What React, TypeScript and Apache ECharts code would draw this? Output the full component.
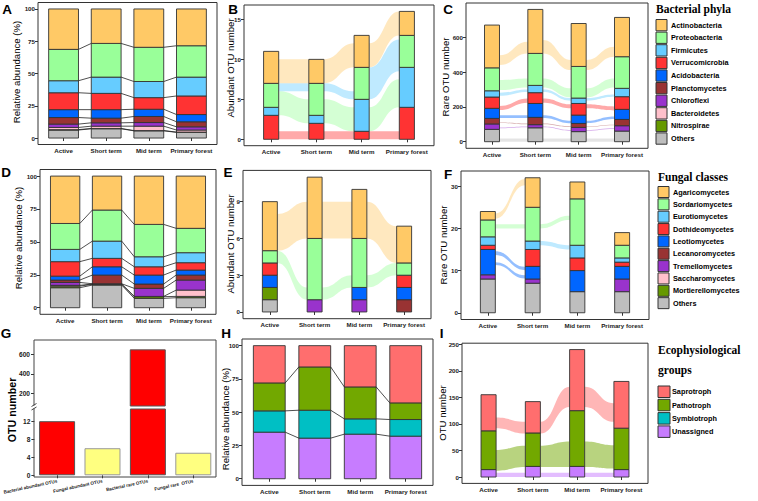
import React, { useEffect, useRef } from "react";
import * as echarts from "echarts";

const FONT = '"Liberation Sans", Arial, Helvetica, sans-serif';
const SERIF = '"Liberation Serif", "Times New Roman", serif';

const SITES = ["Active", "Short term", "Mid term", "Primary forest"];

// stacking order bottom -> top (legends list them top -> bottom)
const BACTERIAL_PHYLA = ["Others", "Nitrospirae", "Bacteroidetes", "Chloroflexi", "Planctomycetes", "Acidobacteria", "Verrucomicrobia", "Firmicutes", "Proteobacteria", "Actinobacteria"];
const FUNGAL_CLASSES = ["Others", "Mortierellomycetes", "Saccharomycetes", "Tremellomycetes", "Lecanoromycetes", "Leotiomycetes", "Dothideomycetes", "Eurotiomycetes", "Sordariomycetes", "Agaricomycetes"];
const TAXON_COLORS = ["#BEBEBE", "#669900", "#FFC0CB", "#9933CC", "#993333", "#0066FF", "#FF3333", "#66CCFF", "#99FF99", "#FFC966"];
const GROUPS = ["Unassigned", "Symbiotroph", "Pathotroph", "Saprotroph"];
const GROUP_COLORS = ["#C77CFF", "#00BFC4", "#72A800", "#FF6E6E"];

// rows follow the stacking order, columns follow SITES
const A_BACT_REL = [
  [6.2, 7.2, 5.6, 4.4],
  [0.3, 0.2, 0.2, 0.2],
  [1.7, 1.8, 3.4, 1.6],
  [2.6, 2.6, 2.8, 2.5],
  [5.1, 3.6, 4.7, 3.9],
  [6.1, 6.6, 5.6, 5.6],
  [13.1, 12.6, 9.0, 14.4],
  [9.3, 12.6, 12.5, 14.6],
  [24.3, 26.1, 26.5, 24.3],
  [31.3, 26.7, 29.7, 28.5],
];
const B_BACT_ABUNDANT = [
  [0, 0, 0, 0], [0, 0, 0, 0], [0, 0, 0, 0], [0, 0, 0, 0], [0, 0, 0, 0], [0, 0, 0, 0],
  [3, 2, 1, 4],
  [1, 1, 4, 5],
  [3, 4, 4, 4],
  [4, 3, 4, 3],
];
const C_BACT_RARE = [
  [71, 80, 58, 61],
  [0, 0, 0, 0],
  [0, 0, 0, 0],
  [31, 18, 24, 31],
  [32, 42, 23, 36],
  [58, 80, 48, 58],
  [65, 62, 67, 73],
  [36, 42, 31, 48],
  [132, 184, 182, 182],
  [246, 253, 247, 226],
];
const D_FUNG_REL = [
  [15.2, 17.2, 7.1, 7.6],
  [1.2, 0.6, 1.3, 1.0],
  [0.6, 0.2, 0.2, 4.8],
  [2.2, 0.2, 6.1, 7.6],
  [1.8, 6.6, 3.3, 3.8],
  [3.0, 6.3, 6.8, 3.8],
  [11.0, 6.4, 6.3, 5.6],
  [9.3, 13.1, 7.6, 7.6],
  [19.7, 23.6, 24.6, 18.5],
  [36.0, 25.8, 36.7, 39.7],
];
const E_FUNG_ABUNDANT = [
  [1, 0, 0, 0],
  [1, 0, 0, 0],
  [0, 0, 0, 0],
  [0, 1, 1, 0],
  [0, 0, 0, 1],
  [1, 0, 1, 1],
  [1, 0, 0, 1],
  [0, 0, 0, 0],
  [1, 5, 4, 1],
  [4, 5, 4, 3],
];
const F_FUNG_RARE = [
  [8, 7, 5, 5],
  [0, 0, 0, 0],
  [0, 0, 0, 0],
  [1, 1, 0, 3],
  [0, 0, 0, 0],
  [6, 3, 5, 3],
  [1, 4, 3, 1],
  [2, 2, 3, 1],
  [4, 8, 11, 3],
  [2, 7, 4, 3],
];
const G_CATEGORIES = ["Bacterial abundant OTUs", "Fungal abundant OTUs", "Bacterial rare OTUs", "Fungal rare  OTUs"];
const G_VALUES = [12, 6, 651, 5];
const H_GROUP_REL = [
  [35, 30.5, 33.5, 32],
  [16, 21, 11.5, 12.5],
  [21, 32.5, 24, 12.5],
  [28, 16, 31, 43],
];
const I_GROUP_OTU = [
  [14, 20, 20, 14],
  [0, 0, 0, 0],
  [73, 63, 105, 78],
  [68, 59, 115, 88],
];

// flows: [taxon, site pair (0 = Active->Short), from low, from high, to low, to high]
const B_FLOWS = [
  [6, 0, 0, 1, 0, 1], [6, 1, 0, 1, 0, 1], [6, 2, 0, 1, 0, 1],
  [8, 0, 3, 6, 2, 5], [8, 1, 2, 5, 1, 4], [8, 2, 1, 4, 4, 7.5],
  [7, 0, 6, 7, 6, 7], [7, 1, 6, 7, 5, 6], [7, 2, 5, 9, 8.5, 12.5],
  [9, 0, 7, 10, 7, 10], [9, 1, 7, 10, 9, 12], [9, 2, 9, 12, 13, 16],
];
const C_FLOWS = [
  [9, 0, 441, 498, 508, 575], [9, 1, 508, 585, 412, 470], [9, 2, 412, 470, 489, 546],
  [8, 0, 297, 355, 312, 364], [8, 1, 312, 364, 255, 307], [8, 2, 255, 307, 312, 364],
  [7, 0, 265, 282, 286, 301], [7, 1, 286, 301, 236, 251], [7, 2, 236, 251, 258, 272],
  [6, 0, 182, 205, 224, 249], [6, 1, 224, 249, 192, 215], [6, 2, 192, 215, 180, 203],
  [5, 0, 136, 152, 136, 152], [5, 1, 136, 152, 106, 120], [5, 2, 106, 120, 130, 145],
  [4, 0, 107, 111, 100, 104], [4, 1, 100, 104, 84, 88], [4, 2, 84, 88, 94, 98],
  [3, 0, 78, 82, 83, 87], [3, 1, 83, 87, 63, 67], [3, 2, 63, 67, 73, 77],
  [0, 0, 0, 18, 0, 18], [0, 1, 0, 18, 0, 18], [0, 2, 0, 18, 0, 18],
];
const E_FLOWS = [
  [9, 0, 5, 8, 6, 9], [9, 1, 6, 9, 6, 9], [9, 2, 6, 9, 4, 7],
  [8, 0, 4, 5, 1, 2], [8, 1, 1, 2, 2, 3], [8, 2, 2, 3, 3, 4],
];
const F_FLOWS = [
  [9, 0, 22.3, 23.5, 30.2, 31.7],
  [8, 0, 20, 21, 20, 21], [8, 1, 20, 21, 22, 23],
  [7, 1, 16, 17, 15, 16],
  [5, 0, 13.7, 14.6, 10.1, 10.9], [5, 0, 11.3, 12, 8.1, 8.9],
];
const I_FLOWS = [
  [3, 0, 92, 112, 82, 104], [3, 1, 82, 104, 132, 170], [3, 2, 132, 170, 104, 139],
  [2, 0, 12, 51, 19, 59], [2, 1, 19, 59, 19, 67], [2, 2, 19, 67, 16, 60],
  [0, 0, 0, 8, 0, 8], [0, 1, 0, 8, 0, 8], [0, 2, 0, 8, 0, 8],
];

const TXT = "#1a1a1a";

function stackSegments(rows: number[][]) {
  const segs: number[][] = [];
  for (let s = 0; s < SITES.length; s++) {
    let base = 0;
    rows.forEach((row, k) => {
      const v = row[s];
      if (v > 0) segs.push([s + 1, base, base + v, k]);
      base += v;
    });
  }
  return segs;
}

function boundaryLines(rows: number[][]) {
  const cum = SITES.map((_, s) => {
    let c = 0;
    return rows.map((r) => (c += r[s]));
  });
  const out: number[][] = [];
  for (let p = 0; p < SITES.length - 1; p++) {
    for (let k = 0; k < rows.length - 1; k++) out.push([p, cum[p][k], cum[p + 1][k]]);
  }
  return out;
}

type Panel = {
  left: number; top: number; width: number; height: number;
  ymin: number; ymax: number; ticks: number[]; hw: number;
  rows: number[][]; colors: string[]; flows?: number[][]; lines?: boolean; alpha?: number;
};

const PANELS: Panel[] = [
  { left: 38, top: 2.5, width: 179, height: 142, ymin: -5, ymax: 105, ticks: [0, 25, 50, 75, 100], hw: 0.35, rows: A_BACT_REL, colors: TAXON_COLORS, lines: true },
  { left: 244, top: 5, width: 190, height: 140.7, ymin: -0.8, ymax: 16.8, ticks: [0, 5, 10, 15], hw: 0.167, rows: B_BACT_ABUNDANT, colors: TAXON_COLORS, flows: B_FLOWS },
  { left: 466, top: 3, width: 182, height: 145.3, ymin: -38, ymax: 798, ticks: [0, 200, 400, 600], hw: 0.173, rows: C_BACT_RARE, colors: TAXON_COLORS, flows: C_FLOWS },
  { left: 40, top: 169.5, width: 176, height: 144.8, ymin: -5, ymax: 105, ticks: [0, 25, 50, 75, 100], hw: 0.35, rows: D_FUNG_REL, colors: TAXON_COLORS, lines: true },
  { left: 243, top: 170.4, width: 188, height: 148.3, ymin: -0.55, ymax: 11.55, ticks: [0, 3, 6, 9], hw: 0.167, rows: E_FUNG_ABUNDANT, colors: TAXON_COLORS, flows: E_FLOWS },
  { left: 461, top: 171, width: 188, height: 148.5, ymin: -1.6, ymax: 33.6, ticks: [0, 10, 20, 30], hw: 0.167, rows: F_FUNG_RARE, colors: TAXON_COLORS, flows: F_FLOWS },
  { left: 242, top: 339, width: 191, height: 146.4, ymin: -5, ymax: 105, ticks: [0, 25, 50, 75, 100], hw: 0.35, rows: H_GROUP_REL, colors: GROUP_COLORS, lines: true },
  { left: 462, top: 343.2, width: 186, height: 140.2, ymin: -12, ymax: 252, ticks: [0, 50, 100, 150, 200, 250], hw: 0.17, rows: I_GROUP_OTU, colors: GROUP_COLORS, flows: I_FLOWS, alpha: 0.5 },
];

function buildOption() {
  const grid: any[] = [];
  const xAxis: any[] = [];
  const yAxis: any[] = [];
  const series: any[] = [];
  const graphic: any[] = [];
  const tickStyle = { color: "#333", width: 1 };

  PANELS.forEach((p, gi) => {
    grid.push({ left: p.left, top: p.top, width: p.width, height: p.height, show: true, borderColor: "#333", borderWidth: 1, backgroundColor: "transparent" });
    xAxis.push({
      gridIndex: gi, type: "value", min: 0.4, max: 4.6,
      axisLine: { show: false }, splitLine: { show: false },
      axisTick: { show: true, customValues: [1, 2, 3, 4], length: 3, lineStyle: tickStyle },
      axisLabel: { customValues: [1, 2, 3, 4], formatter: (v: number) => SITES[Math.round(v) - 1] || "", fontSize: 6.2, fontWeight: "bold", color: TXT, fontFamily: FONT, margin: 3 },
    });
    yAxis.push({
      gridIndex: gi, type: "value", min: p.ymin, max: p.ymax,
      axisLine: { show: false }, splitLine: { show: false },
      axisTick: { show: true, customValues: p.ticks, length: 3, lineStyle: tickStyle },
      axisLabel: { customValues: p.ticks, fontSize: 6.2, fontWeight: "bold", color: TXT, fontFamily: FONT, margin: 3 },
    });
    if (p.flows) {
      const colors = p.colors;
      const hw = p.hw;
      const alpha = p.alpha ?? 0.42;
      series.push({
        type: "custom", xAxisIndex: gi, yAxisIndex: gi, z: 1, silent: true, data: p.flows,
        renderItem: (_params: any, api: any) => {
          const k = api.value(0), pair = api.value(1);
          const xs = pair + 1 + hw, xe = pair + 2 - hw;
          const p0 = api.coord([xs, api.value(2)]), p1 = api.coord([xs, api.value(3)]);
          const q0 = api.coord([xe, api.value(4)]), q1 = api.coord([xe, api.value(5)]);
          const xm = (p0[0] + q0[0]) / 2;
          const d = `M${p1[0]} ${p1[1]}C${xm} ${p1[1]} ${xm} ${q1[1]} ${q1[0]} ${q1[1]}L${q0[0]} ${q0[1]}C${xm} ${q0[1]} ${xm} ${p0[1]} ${p0[0]} ${p0[1]}Z`;
          return { type: "path", shape: { pathData: d }, style: { fill: colors[k], opacity: alpha } };
        },
      });
    }
    {
      const colors = p.colors;
      const hw = p.hw;
      series.push({
        type: "custom", xAxisIndex: gi, yAxisIndex: gi, z: 3, silent: true, data: stackSegments(p.rows),
        renderItem: (_params: any, api: any) => {
          const x = api.value(0), y0 = api.value(1), y1 = api.value(2), k = api.value(3);
          const a = api.coord([x - hw, y0]), b = api.coord([x + hw, y1]);
          return { type: "rect", shape: { x: a[0], y: b[1], width: b[0] - a[0], height: a[1] - b[1] }, style: { fill: colors[k], stroke: "#333", lineWidth: 0.9 } };
        },
      });
    }
    if (p.lines) {
      const hw = p.hw;
      series.push({
        type: "custom", xAxisIndex: gi, yAxisIndex: gi, z: 4, silent: true, data: boundaryLines(p.rows),
        renderItem: (_params: any, api: any) => {
          const pair = api.value(0);
          const a = api.coord([pair + 1 + hw, api.value(1)]), b = api.coord([pair + 2 - hw, api.value(2)]);
          return { type: "line", shape: { x1: a[0], y1: a[1], x2: b[0], y2: b[1] }, style: { stroke: "#222", lineWidth: 0.8 } };
        },
      });
    }
  });

  // Panel G: broken axis -> two grids
  const gLow = grid.length;
  grid.push({ left: 34, top: 409, width: 182, height: 68, show: false });
  grid.push({ left: 34, top: 340, width: 182, height: 66, show: false });
  xAxis.push({
    gridIndex: gLow, type: "category", data: G_CATEGORIES,
    axisLine: { show: false }, splitLine: { show: false },
    axisTick: { show: true, alignWithLabel: true, length: 3, lineStyle: tickStyle },
    axisLabel: { rotate: 12, fontSize: 4.6, fontWeight: "bold", color: TXT, fontFamily: FONT, margin: 4, interval: 0 },
  });
  xAxis.push({ gridIndex: gLow + 1, type: "category", data: G_CATEGORIES, show: false });
  yAxis.push({
    gridIndex: gLow, type: "value", min: -0.38, max: 14.7,
    axisLine: { show: false }, splitLine: { show: false },
    axisTick: { show: true, customValues: [0, 4, 8, 12], length: 3, lineStyle: tickStyle },
    axisLabel: { customValues: [0, 4, 8, 12], fontSize: 6.6, fontWeight: "bold", color: TXT, fontFamily: FONT, margin: 4 },
  });
  yAxis.push({
    gridIndex: gLow + 1, type: "value", min: 70, max: 747,
    axisLine: { show: false }, splitLine: { show: false },
    axisTick: { show: true, customValues: [200, 400, 600], length: 3, lineStyle: tickStyle },
    axisLabel: { customValues: [200, 400, 600], fontSize: 6.6, fontWeight: "bold", color: TXT, fontFamily: FONT, margin: 4 },
  });
  const gItem = (v: number, i: number) => ({
    value: v,
    itemStyle: i % 2 === 0 ? { color: "#FF0000", borderColor: "#555", borderWidth: 1 } : { color: "#FFFF80", borderColor: "#999", borderWidth: 1 },
  });
  series.push({ type: "bar", xAxisIndex: gLow, yAxisIndex: gLow, barWidth: 36, clip: true, data: G_VALUES.map(gItem), silent: true });
  series.push({ type: "bar", xAxisIndex: gLow + 1, yAxisIndex: gLow + 1, barWidth: 36, clip: true, data: G_VALUES.map((v, i) => (v > 70 ? gItem(v, i) : "-")), silent: true });
  const frame = { stroke: "#444", lineWidth: 1 };
  graphic.push({ type: "polyline", shape: { points: [[34, 477], [34, 340], [216, 340], [216, 477], [34, 477]] }, style: { ...frame, fill: null }, z: 10 });
  graphic.push({ type: "rect", shape: { x: 32, y: 405.5, width: 4, height: 3 }, style: { fill: "#fff" }, z: 11 });
  graphic.push({ type: "line", shape: { x1: 31.5, y1: 406.5, x2: 36.5, y2: 403.5 }, style: frame, z: 12 });
  graphic.push({ type: "line", shape: { x1: 31.5, y1: 410, x2: 36.5, y2: 407 }, style: frame, z: 12 });

  // panel letters
  const letters: [string, number, number][] = [
    ["A", 7, 9], ["B", 233, 9], ["C", 448, 9.5], ["D", 6, 172], ["E", 228, 172], ["F", 448, 174], ["G", 6, 333], ["H", 226, 333], ["I", 441.5, 333],
  ];
  letters.forEach(([t, x, y]) =>
    graphic.push({ type: "text", x, y, style: { text: t, fontSize: 13.5, fontWeight: "bold", fontFamily: FONT, fill: "#000", textAlign: "center", textVerticalAlign: "middle" }, z: 20 })
  );

  // y axis titles
  const yTitles: [string, number, number, boolean, number][] = [
    ["Relative abundance (%)", 16, 72, false, 9.6],
    ["Abundant OTU number", 230, 68, false, 9.6],
    ["Rare OTU number", 445, 77, false, 9.6],
    ["Relative abundance (%)", 18, 238, false, 9.6],
    ["Abundant OTU number", 230, 244, false, 9.6],
    ["Rare OTU number", 443, 245, false, 9.6],
    ["OTU number", 12, 410, true, 10.7],
    ["Relative abundance (%)", 225, 419, false, 9.6],
    ["OTU number", 442, 413, false, 9.6],
  ];
  yTitles.forEach(([t, x, y, bold, fs]) =>
    graphic.push({ type: "text", x, y, rotation: Math.PI / 2, style: { text: t, fontSize: fs, fontWeight: bold ? "bold" : "normal", fontFamily: FONT, fill: "#000", textAlign: "center", textVerticalAlign: "middle" }, z: 20 })
  );

  // legends
  const legend = (titleLines: string[], titleY: number[], names: string[], colors: string[], x: number, y0: number, pitch: number, bw: number, bh: number, tx: number) => {
    titleLines.forEach((t, i) =>
      graphic.push({ type: "text", x, y: titleY[i], style: { text: t, fontSize: 11.5, fontWeight: "bold", fontFamily: SERIF, fill: "#000", textAlign: "left", textVerticalAlign: "middle" }, z: 20 })
    );
    names.forEach((n, i) => {
      const y = y0 + i * pitch;
      graphic.push({ type: "rect", shape: { x, y, width: bw, height: bh }, style: { fill: colors[i], stroke: "#333", lineWidth: 1 }, z: 20 });
      graphic.push({ type: "text", x: tx, y: y + bh / 2, style: { text: n, fontSize: 7.3, fontWeight: "bold", fontFamily: FONT, fill: "#000", textAlign: "left", textVerticalAlign: "middle" }, z: 20 });
    });
  };
  const rev = <T,>(a: T[]) => a.slice().reverse();
  legend(["Bacterial phyla"], [9], rev(BACTERIAL_PHYLA), rev(TAXON_COLORS), 656, 19.5, 12.6, 11, 11.3, 671);
  legend(["Fungal classes"], [177], rev(FUNGAL_CLASSES), rev(TAXON_COLORS), 658, 186.5, 12.35, 11, 11, 673);
  legend(["Ecophysiological", "groups"], [350, 370], rev(GROUPS), rev(GROUP_COLORS), 658, 386, 13.3, 12, 11.5, 672);

  return { animation: false, backgroundColor: "#fff", grid, xAxis, yAxis, series, graphic };
}

export default function App() {
  const ref = useRef<HTMLDivElement>(null);
  useEffect(() => {
    if (!ref.current) return;
    const chart = echarts.init(ref.current, undefined, { renderer: "svg" });
    chart.setOption(buildOption() as any);
    return () => chart.dispose();
  }, []);
  return <div ref={ref} style={{ position: "absolute", left: 0, top: 0, width: 758, height: 501, background: "#fff" }} />;
}
